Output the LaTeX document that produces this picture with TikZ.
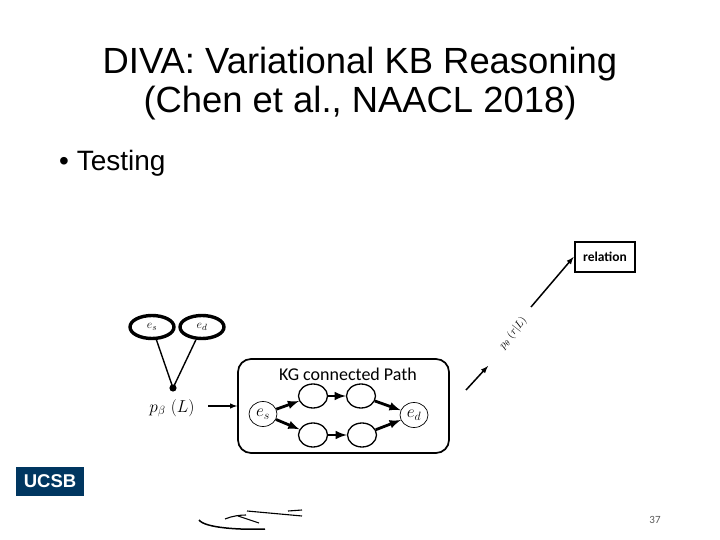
\documentclass[tikz,border=0pt]{standalone}
\usepackage{amsmath}
\usepackage{fontspec}
\setmainfont{Liberation Sans}
\newfontfamily\labelfont{Carlito}
\usetikzlibrary{arrows}
\usetikzlibrary{shapes.geometric}
\definecolor{ucsbblue}{HTML}{003660}
\tikzstyle{topnode}=[draw, ellipse, line width=3.4, minimum width=44, minimum height=23, inner sep=0]
\tikzstyle{pathnode}=[draw, ellipse, line width=1.3, minimum width=29, minimum height=24, inner sep=0]
\tikzstyle{endnode}=[draw, ellipse, line width=0.7, minimum width=28, minimum height=25, inner sep=0]
\tikzstyle{patharrow}=[-latex, line width=2.8]
\begin{document}
\begin{tikzpicture}[x=1pt, y=-1pt]
      \useasboundingbox (0, 0) rectangle (720, 540);
      \node[align=center, font=\fontsize{36.4}{39}\selectfont] at (360, 84) (title) {DIVA: Variational KB Reasoning\\(Chen et al., NAACL 2018)};
      \node[anchor=west, inner sep=0, font=\fontsize{28}{32}\selectfont] at (59, 163) (testing) {• Testing};
      \node[topnode] at (152, 327) (es) {\fontsize{13}{15}\selectfont$e_s$};
      \node[topnode] at (202, 327) (ed) {\fontsize{13}{15}\selectfont$e_d$};
      \coordinate (join) at (173, 388);
      \draw[line width=1.4] (es) -- (join);
      \draw[line width=1.4] (ed) -- (join);
      \fill (join) circle (3.6);
      \node at (172, 408) (pb) {\fontsize{18}{20}\selectfont$p_\beta\ (L)$};
      \node[draw, rounded corners=13, line width=1.7, minimum width=211, minimum height=94] at (343.5, 406) (kg) {};
      \draw[-latex, line width=1.4] (208, 406) -- (kg.west |- 0, 406);
      \node[font=\labelfont\fontsize{18}{20}\selectfont] at (348, 374) (kgtext) {KG connected Path};
      \node[endnode] at (263, 414) (ps) {\fontsize{18}{20}\selectfont$e_s$};
      \node[pathnode] at (313, 396) (ta) {};
      \node[pathnode] at (361, 396) (tb) {};
      \node[pathnode] at (313, 435) (ba) {};
      \node[pathnode] at (362, 435) (bb) {};
      \node[endnode] at (414, 415) (pd) {\fontsize{18}{20}\selectfont$e_d$};
      \draw[patharrow] (ps) -- (ta);
      \draw[patharrow] (ta) -- (tb);
      \draw[patharrow] (tb) -- (pd);
      \draw[patharrow] (ps) -- (ba);
      \draw[patharrow] (ba) -- (bb);
      \draw[patharrow] (bb) -- (pd);
      \node[draw, line width=2.8, minimum width=60, minimum height=30, inner sep=0, font=\labelfont\bfseries\fontsize{13.5}{15}\selectfont] at (605, 257) (relation) {relation};
      \node[rotate=52, font=\fontsize{11}{13}\selectfont] at (513, 333) (prob) {$p_\theta\ (r|L)$};
      \coordinate (pa) at (466, 390);
      \coordinate (pe) at (488, 366);
      \coordinate (qa) at (531, 307);
      \draw[-latex, line width=1.5] (pa) -- (pe);
      \draw[-latex, line width=1.5] (qa) -- (relation.west);
      \node[fill=ucsbblue, text=white, minimum width=68, minimum height=29, inner sep=0, font=\bfseries\fontsize{18.5}{20}\selectfont] at (50, 481.5) (logo) {UCSB};
      % stray marks under the logo
      \draw[line width=1.5] (199, 520) .. controls (205, 528) and (240, 530) .. (265, 529);
      \draw[line width=1.1] (225, 519) .. controls (232, 516) and (240, 515) .. (246, 515);
      \draw[line width=1.1] (238, 516) -- (259, 523);
      \draw[line width=1.1] (247, 511) -- (302, 516);
      \draw[line width=1.1] (288, 511) -- (302, 510);
      \node[text=black!65, font=\labelfont\fontsize{11}{13}\selectfont] at (655, 520) (pagenum) {37};
    \end{tikzpicture}
\end{document}
